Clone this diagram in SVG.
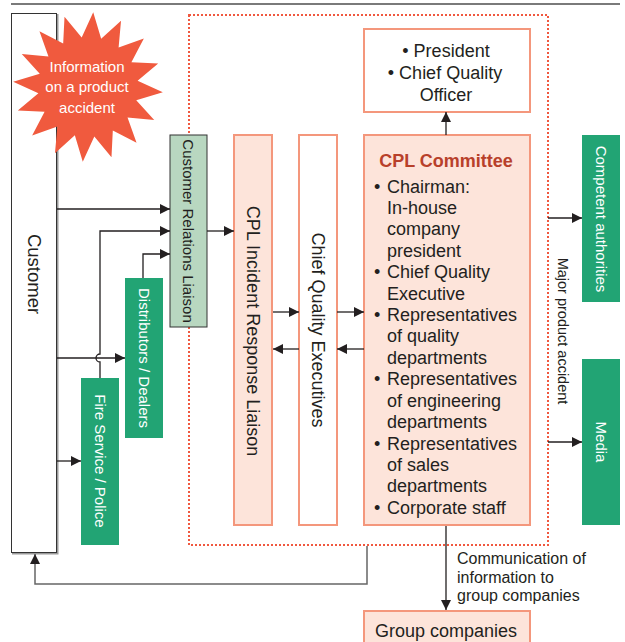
<svg xmlns="http://www.w3.org/2000/svg" width="625" height="642" viewBox="0 0 625 642">
<style>
text{font-family:"Liberation Sans",Arial,sans-serif;fill:#231f20}
.pink{fill:#fde4da;stroke:#f4977c;stroke-width:2}
.white{fill:#fff;stroke:#f4977c;stroke-width:2}
.green{fill:#22a474}
.wt{fill:#fff}
.conn{fill:none;stroke:#231f20;stroke-width:1.3;marker-end:url(#ah)}
.body{font-size:18px}
</style>
<defs>
<marker id="ah" markerUnits="userSpaceOnUse" markerWidth="10" markerHeight="10" refX="10" refY="5" orient="auto">
<path d="M0,0 L10,5 L0,10 z" fill="#231f20"/>
</marker>
</defs>
<rect width="625" height="642" fill="#fff"/>
<line x1="11" y1="4" x2="620" y2="4" stroke="#7a7a7a" stroke-width="2"/>

<rect x="189" y="15" width="359" height="530" fill="none" stroke="#f0583f" stroke-width="2" stroke-dasharray="2,2"/>

<g id="customer">
<polyline points="57.5,14 57.5,553.5 12,553.5" fill="none" stroke="#9a9a9a" stroke-width="2"/>
<rect x="11.5" y="13.5" width="45" height="539" fill="#fff" stroke="#333" stroke-width="1"/>
<text transform="translate(34,274) rotate(90)" text-anchor="middle" dy="0.35em" font-size="18.5">Customer</text>
</g>

<g id="accident">
<polygon transform="translate(88,87) rotate(4)" fill="#f05a3e" points="0,-75 9.76,-49.04 28.32,-68.37 27.78,-41.57 52.33,-52.33 41.57,-27.78 68.37,-28.32 49.04,-9.76 75,0 49.04,9.76 68.37,28.32 41.57,27.78 52.33,52.33 27.78,41.57 28.32,68.37 9.76,49.04 0,75 -9.76,49.04 -28.32,68.37 -27.78,41.57 -52.33,52.33 -41.57,27.78 -68.37,28.32 -49.04,9.76 -75,0 -49.04,-9.76 -68.37,-28.32 -41.57,-27.78 -52.33,-52.33 -27.78,-41.57 -28.32,-68.37 -9.76,-49.04"/>
<text class="wt" font-size="15" text-anchor="middle" x="87" y="72">Information</text>
<text class="wt" font-size="15" text-anchor="middle" x="87" y="92">on a product</text>
<text class="wt" font-size="15" text-anchor="middle" x="87" y="113">accident</text>
</g>

<g id="crl">
<rect x="170" y="135" width="37" height="192" fill="#b8d7c0" stroke="#333" stroke-width="1"/>
<text transform="translate(188.5,231) rotate(90)" text-anchor="middle" dy="0.35em" font-size="15">Customer Relations Liaison</text>
</g>

<g id="distributors">
<rect class="green" x="125" y="278" width="38" height="160"/>
<text class="wt" transform="translate(144,358) rotate(90)" text-anchor="middle" dy="0.35em" font-size="15">Distributors / Dealers</text>
</g>

<g id="fire">
<rect class="green" x="81" y="378" width="38" height="167"/>
<text class="wt" transform="translate(100,461) rotate(90)" text-anchor="middle" dy="0.35em" font-size="15">Fire Service / Police</text>
</g>

<g id="liaison">
<rect class="pink" x="234" y="135" width="38" height="390"/>
<text transform="translate(253,331) rotate(90)" text-anchor="middle" dy="0.35em" font-size="18">CPL Incident Response Liaison</text>
</g>

<g id="executives">
<rect class="white" x="299" y="135" width="38" height="390"/>
<text transform="translate(318,330) rotate(90)" text-anchor="middle" dy="0.35em" font-size="18">Chief Quality Executives</text>
</g>

<g id="president">
<rect class="white" x="364" y="29" width="166" height="83"/>
<text class="body" text-anchor="middle" x="446" y="57">• President</text>
<text class="body" text-anchor="middle" x="445" y="79">• Chief Quality</text>
<text class="body" text-anchor="middle" x="446" y="101">Officer</text>
</g>

<g id="committee">
<rect class="pink" x="364" y="135" width="166" height="390"/>
<text x="446" y="167" text-anchor="middle" font-size="18" font-weight="bold" style="fill:#b8402a">CPL Committee</text>
<g class="body">
<text x="374" y="193">•</text><text x="387" y="193">Chairman:</text>
<text x="387" y="214">In-house</text>
<text x="387" y="235">company</text>
<text x="387" y="257">president</text>
<text x="374" y="278">•</text><text x="387" y="278">Chief Quality</text>
<text x="387" y="300">Executive</text>
<text x="374" y="321">•</text><text x="387" y="321">Representatives</text>
<text x="387" y="342">of quality</text>
<text x="387" y="364">departments</text>
<text x="374" y="385">•</text><text x="387" y="385">Representatives</text>
<text x="387" y="407">of engineering</text>
<text x="387" y="428">departments</text>
<text x="374" y="450">•</text><text x="387" y="450">Representatives</text>
<text x="387" y="471">of sales</text>
<text x="387" y="492">departments</text>
<text x="374" y="514">•</text><text x="387" y="514">Corporate staff</text>
</g>
</g>

<g id="authorities">
<rect class="green" x="582" y="135" width="38" height="167"/>
<text class="wt" transform="translate(601,219) rotate(90)" text-anchor="middle" dy="0.35em" font-size="15">Competent authorities</text>
</g>

<g id="media">
<rect class="green" x="582" y="359" width="38" height="166"/>
<text class="wt" transform="translate(601,442) rotate(90)" text-anchor="middle" dy="0.35em" font-size="15">Media</text>
</g>

<g id="group">
<rect class="pink" x="364" y="611" width="166" height="40"/>
<text class="body" text-anchor="middle" x="446" y="637">Group companies</text>
</g>

<g id="connectors">
<path class="conn" d="M57,209 H170"/>
<path class="conn" d="M100,378 V362 A4,4 0 0 1 100,354 V231 H170"/>
<path class="conn" d="M143,278 V254 H170"/>
<path class="conn" d="M57,358 H125"/>
<path class="conn" d="M57,461 H81"/>
<path class="conn" d="M207,231 H234"/>
<path class="conn" d="M273,312 H299"/>
<path class="conn" d="M299,349 H273"/>
<path class="conn" d="M337,312 H364"/>
<path class="conn" d="M364,349 H337"/>
<path class="conn" d="M446,135 V112"/>
<path class="conn" d="M548,218 H582"/>
<path class="conn" d="M548,442 H582"/>
<path class="conn" d="M446,526 V610"/>
<path class="conn" style="stroke:#666;stroke-width:1.5" d="M367,546 V584 H35 V554"/>
<text transform="translate(563,331) rotate(90)" text-anchor="middle" dy="0.35em" font-size="14.5">Major product accident</text>
<text x="457" y="564" font-size="16">Communication of</text>
<text x="457" y="583" font-size="16">information to</text>
<text x="457" y="601" font-size="16">group companies</text>
</g>
</svg>
